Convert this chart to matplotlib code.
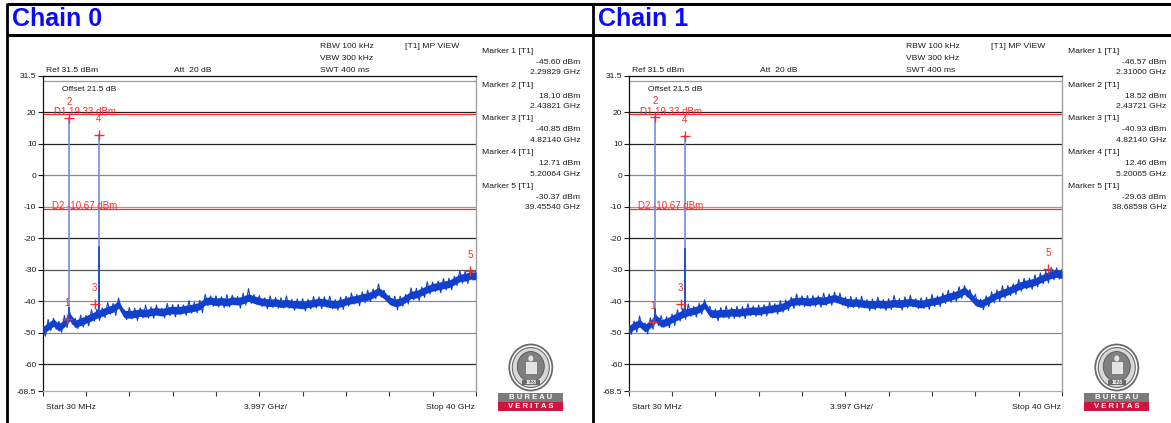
import numpy as np
import matplotlib
matplotlib.use("Agg")
import matplotlib.pyplot as plt
from matplotlib.lines import Line2D
from matplotlib.patches import Rectangle, Ellipse

plt.rcParams['font.family'] = ['Liberation Sans', 'DejaVu Sans']

W, H = 1171, 423

# ---- analyzer settings -------------------------------------------------
START_GHZ = 0.03
STOP_GHZ = 40.0
REF_DBM = 31.5
BOTTOM_DBM = -68.5
y_ticks = [31.5, 20, 10, 0, -10, -20, -30, -40, -50, -60, -68.5]
y_tick_labels = ['31.5', '20', '10', '0', '-10', '-20', '-30', '-40', '-50', '-60', '-68.5']
grid_levels = [30, 20, 10, 0, -10, -20, -30, -40, -50, -60]
grid_colors = ['#9a9a9a', '#222222', '#222222', '#8a8a8a', '#9a9a9a',
               '#222222', '#555555', '#8a8a8a', '#8a8a8a', '#222222']
display_line_names = ['D1', 'D2']
display_line_levels = [19.33, -10.67]
settings_left = ['RBW 100 kHz', 'VBW 300 kHz', 'SWT 400 ms']
x_labels = ['Start 30 MHz', '3.997 GHz/', 'Stop 40 GHz']

chain_names = ['Chain 0', 'Chain 1']

# ---- markers (GHz, dBm) ------------------------------------------------
marker_freqs_0 = [2.29829, 2.43821, 4.82140, 5.20064, 39.45540]
marker_levels_0 = [-45.60, 18.10, -40.85, 12.71, -30.37]
marker_freqs_1 = [2.31000, 2.43721, 4.82140, 5.20065, 38.68598]
marker_levels_1 = [-46.57, 18.52, -40.93, 12.46, -29.63]

# ---- trace: 81 sweep points from 30 MHz to 40 GHz -----------------------
trace_mid_0 = [-49.3, -48.0, -46.8, -48.3, -47.0, -45.0, -47.2, -46.5, -45.8, -45.0,
               -44.2, -43.6, -42.8, -42.3, -41.0, -44.0, -44.2, -44.0, -43.6, -43.8,
               -43.4, -43.2, -43.5, -43.0, -42.8, -42.9, -42.6, -42.3, -42.0, -41.5,
               -40.0, -39.8, -40.2, -40.0, -40.3, -39.8, -40.0, -39.6, -38.8, -39.5,
               -40.0, -40.3, -40.5, -40.4, -40.8, -40.6, -40.9, -41.0, -41.2, -40.8,
               -40.6, -40.2, -40.4, -40.8, -41.0, -40.6, -40.0, -39.6, -39.3, -38.8,
               -38.5, -37.8, -36.8, -38.0, -39.8, -40.5, -40.2, -39.2, -38.0, -37.8,
               -37.0, -36.2, -35.6, -35.2, -34.8, -34.5, -33.6, -32.6, -32.4, -31.8,
               -32.0]
trace_mid_1 = [-49.0, -47.8, -47.0, -48.5, -47.3, -45.5, -47.0, -46.6, -45.6, -44.8,
               -44.0, -43.4, -43.0, -42.5, -41.2, -43.8, -44.0, -43.8, -43.8, -43.5,
               -43.6, -43.4, -43.2, -43.0, -43.1, -42.7, -42.5, -42.2, -42.0, -41.3,
               -40.2, -40.0, -39.9, -40.2, -40.0, -39.7, -39.9, -39.4, -39.0, -39.6,
               -40.2, -40.5, -40.4, -40.7, -40.9, -41.1, -40.8, -41.0, -40.9, -40.6,
               -40.8, -40.5, -40.3, -40.6, -40.9, -40.5, -40.1, -39.8, -39.2, -38.6,
               -38.2, -37.6, -36.6, -38.2, -40.2, -40.8, -40.0, -39.0, -38.0, -37.4,
               -36.8, -36.0, -35.2, -34.6, -34.3, -33.8, -33.0, -32.2, -31.6, -31.2,
               -31.6]
# noise excursion above / below the trace body (dB)
noise_up_0 = [1.6, 2.2, 1.4, 1.9, 2.5, 1.5, 1.8, 2.1, 1.3, 2.3,
              1.7, 1.5, 2.4, 1.6, 2.0, 1.4, 2.2, 1.8, 1.5, 2.6,
              1.6, 2.0, 1.3, 2.3, 1.7, 1.9, 1.4, 2.5, 1.6, 1.8,
              2.2, 1.5, 1.9, 1.4, 2.4, 1.7, 1.5, 2.1, 2.8, 1.6,
              1.8, 1.4, 2.2, 1.6, 1.9, 2.3, 1.5, 1.7, 2.0, 1.4,
              2.1, 1.6, 1.8, 2.4, 1.5, 1.9, 1.6, 2.2, 1.4, 1.8,
              2.0, 1.7, 2.3, 1.5, 1.6, 2.1, 1.8, 1.4, 2.2, 1.9,
              1.5, 2.4, 1.7, 1.6, 2.0, 1.8, 1.5, 2.3, 1.9, 2.1,
              1.6]
noise_dn_0 = [1.8, 1.3, 2.1, 1.6, 1.4, 2.3, 1.5, 1.7, 2.0, 1.4,
              1.9, 1.6, 1.3, 2.2, 1.5, 1.8, 1.4, 2.1, 1.7, 1.5,
              2.0, 1.4, 1.8, 1.6, 2.2, 1.3, 1.9, 1.5, 1.7, 2.1,
              1.4, 1.8, 1.6, 2.0, 1.5, 1.3, 2.2, 1.6, 1.9, 1.4,
              1.7, 2.1, 1.5, 1.8, 1.4, 1.6, 2.0, 1.3, 1.9, 1.7,
              1.5, 2.2, 1.4, 1.6, 1.8, 2.0, 1.5, 1.3, 2.1, 1.7,
              1.6, 1.4, 1.9, 1.8, 1.5, 2.2, 1.4, 1.7, 1.6, 2.0,
              1.8, 1.5, 1.3, 2.1, 1.6, 1.9, 1.4, 1.7, 2.0, 1.5,
              1.6]
noise_up_1 = [1.9, 1.5, 2.3, 1.6, 2.0, 1.4, 2.4, 1.7, 1.5, 2.1,
              1.8, 2.5, 1.4, 1.9, 1.6, 2.2, 1.5, 1.8, 2.3, 1.4,
              2.0, 1.7, 2.4, 1.5, 1.9, 1.6, 2.1, 1.4, 2.2, 1.7,
              1.5, 2.3, 1.6, 2.0, 1.8, 1.4, 2.5, 1.7, 1.9, 2.2,
              1.5, 2.0, 1.6, 2.3, 1.4, 1.8, 2.1, 1.5, 1.7, 2.4,
              1.6, 1.9, 2.2, 1.4, 2.0, 1.7, 2.3, 1.5, 1.8, 2.1,
              1.4, 2.2, 1.6, 1.9, 2.4, 1.5, 1.7, 2.0, 1.6, 2.3,
              1.8, 1.5, 2.1, 1.9, 1.6, 2.2, 2.0, 1.7, 2.4, 1.8,
              1.7]
noise_dn_1 = [1.5, 2.0, 1.4, 1.9, 1.6, 2.2, 1.3, 1.8, 2.1, 1.5,
              1.7, 1.4, 2.0, 1.6, 1.8, 1.5, 2.2, 1.4, 1.7, 1.9,
              1.5, 2.1, 1.4, 1.8, 1.6, 2.0, 1.3, 1.9, 1.5, 1.7,
              2.1, 1.4, 1.8, 1.5, 1.6, 2.2, 1.4, 1.9, 1.5, 1.7,
              2.0, 1.5, 1.8, 1.4, 2.1, 1.6, 1.5, 1.9, 1.7, 1.4,
              2.0, 1.6, 1.5, 1.8, 1.4, 2.1, 1.6, 1.9, 1.5, 1.7,
              1.8, 1.5, 2.0, 1.6, 1.4, 1.9, 1.7, 1.5, 2.1, 1.6,
              1.4, 1.8, 1.6, 1.5, 1.9, 1.7, 1.5, 2.0, 1.6, 1.8,
              1.6]

# carrier / harmonic spikes: base level of the line and top of its dark part
spike_base_0 = [-46.0, -43.5]
spike_dark_top_0 = [-42.0, -22.7]
spike_base_1 = [-46.5, -43.3]
spike_dark_top_1 = [-42.5, -23.5]

chains = [
    dict(name=chain_names[0], mf=marker_freqs_0, ml=marker_levels_0,
         mid=trace_mid_0, up=noise_up_0, dn=noise_dn_0,
         sb=spike_base_0, sd=spike_dark_top_0),
    dict(name=chain_names[1], mf=marker_freqs_1, ml=marker_levels_1,
         mid=trace_mid_1, up=noise_up_1, dn=noise_dn_1,
         sb=spike_base_1, sd=spike_dark_top_1),
]

TRACE = '#1040cc'
SPIKE_LIGHT = '#6f8fe4'
RED = '#ff2a2a'
TXT = '#1c1c1c'
FS = 6.1

fig = plt.figure(figsize=(W / 100, H / 100), dpi=100)
fig.patch.set_facecolor('white')


def fx(px):
    return px / W


def fy(py):
    return 1 - py / H


def fig_line(xs, ys, lw, color='black'):
    fig.add_artist(Line2D([fx(v) for v in xs], [fy(v) for v in ys],
                          transform=fig.transFigure, lw=lw, color=color,
                          solid_capstyle='butt'))


# outer frame and title band
fig_line([7, W], [4, 4], 2.2)
fig_line([7, W], [35, 35], 2.2)
fig_line([7, 7], [3, H], 2.0)
fig_line([593, 593], [3, H], 2.0)

PANEL_OFFSET = 586.0
AX_LEFT, AX_RIGHT, AX_TOP, AX_BOTTOM = 42.7, 476.0, 76.0, 391.0

sweep_freqs = np.linspace(START_GHZ, STOP_GHZ, len(trace_mid_0))
half_step = (sweep_freqs[1] - sweep_freqs[0]) / 2


def draw_logo(off):
    cx, cy = 530.8 + off, 367.5
    fig.add_artist(Ellipse((fx(cx), fy(cy)), 43 / W, 46 / H, transform=fig.transFigure,
                           facecolor='white', edgecolor='#6a6a6a', lw=1.3))
    fig.add_artist(Ellipse((fx(cx), fy(cy)), 37 / W, 40 / H, transform=fig.transFigure,
                           facecolor='#d8d8d8', edgecolor='#6a6a6a', lw=0.8))
    fig.add_artist(Ellipse((fx(cx), fy(cy - 1)), 27 / W, 30 / H, transform=fig.transFigure,
                           facecolor='#808080', edgecolor='#555555', lw=0.6))
    fig.add_artist(Rectangle((fx(cx - 6), fy(cy + 6)), 12 / W, 13 / H, transform=fig.transFigure,
                             facecolor='#e4e4e4', edgecolor='#555555', lw=0.4))
    fig.add_artist(Ellipse((fx(cx), fy(cy - 9)), 5 / W, 6 / H, transform=fig.transFigure,
                           facecolor='#e4e4e4', edgecolor='none'))
    fig.add_artist(Rectangle((fx(cx - 9), fy(cy + 17)), 18 / W, 5 / H, transform=fig.transFigure,
                             facecolor='#6a6a6a', edgecolor='none'))
    fig.text(fx(cx), fy(cy + 14.5), '1828', fontsize=3.6, color='white', ha='center',
             va='center', weight='bold')
    x0, x1 = 498 + off, 563 + off
    fig.add_artist(Rectangle((fx(x0), fy(402)), (x1 - x0) / W, 9 / H, transform=fig.transFigure,
                             facecolor='#7b7b7b', edgecolor='none'))
    fig.add_artist(Rectangle((fx(x0), fy(411)), (x1 - x0) / W, 9 / H, transform=fig.transFigure,
                             facecolor='#d2123f', edgecolor='none'))
    fig.text(fx((x0 + x1) / 2), fy(397.6), 'B U R E A U', fontsize=5.6, color='white',
             ha='center', va='center', weight='bold')
    fig.text(fx((x0 + x1) / 2), fy(406.6), 'V E R I T A S', fontsize=5.6, color='white',
             ha='center', va='center', weight='bold')


for ci, ch in enumerate(chains):
    off = PANEL_OFFSET * ci

    fig.text(fx(12 + off), fy(19), ch['name'], fontsize=18, weight='bold',
             color='#0a0aff', ha='left', va='center')

    # instrument header
    for k, s in enumerate(settings_left):
        fig.text(fx(320 + off), fy(47 + 11.5 * k), s, fontsize=FS, color=TXT, va='center')
    fig.text(fx(405 + off), fy(47), '[T1] MP VIEW', fontsize=FS, color=TXT, va='center')
    fig.text(fx(46 + off), fy(71), 'Ref %.1f dBm' % REF_DBM, fontsize=FS, color=TXT, va='center')
    fig.text(fx(174 + off), fy(71), 'Att  20 dB', fontsize=FS, color=TXT, va='center')

    # marker table
    for k, (f, lv) in enumerate(zip(ch['mf'], ch['ml'])):
        y0 = 51.5 + 33.7 * k
        fig.text(fx(482 + off), fy(y0), 'Marker %d [T1]' % (k + 1), fontsize=FS,
                 color=TXT, va='center')
        fig.text(fx(580.5 + off), fy(y0 + 11), '%.2f dBm' % lv, fontsize=FS,
                 color=TXT, va='center', ha='right')
        fig.text(fx(580.5 + off), fy(y0 + 21.5), '%.5f GHz' % f, fontsize=FS,
                 color=TXT, va='center', ha='right')

    # bottom labels
    fig.text(fx(46 + off), fy(407), x_labels[0], fontsize=FS, color=TXT, va='center', ha='left')
    fig.text(fx(266 + off), fy(407), x_labels[1], fontsize=FS, color=TXT, va='center', ha='center')
    fig.text(fx(475 + off), fy(407), x_labels[2], fontsize=FS, color=TXT, va='center', ha='right')

    ax = fig.add_axes([fx(AX_LEFT + off), fy(AX_BOTTOM), (AX_RIGHT - AX_LEFT) / W,
                       (AX_BOTTOM - AX_TOP) / H])
    ax.set_xlim(START_GHZ, STOP_GHZ)
    ax.set_ylim(BOTTOM_DBM, REF_DBM)
    ax.set_facecolor('white')

    ax.set_yticks(y_ticks)
    ax.set_yticklabels(y_tick_labels)
    ax.set_xticks(np.linspace(START_GHZ, STOP_GHZ, 11))
    ax.set_xticklabels([])
    ax.tick_params(axis='y', direction='out', length=3.5, width=0.8, pad=1,
                   labelsize=FS, colors=TXT)
    ax.tick_params(axis='x', direction='out', length=3.5, width=0.8, colors='#333333')

    ax.spines['left'].set_color('#111111')
    ax.spines['left'].set_linewidth(0.9)
    ax.spines['top'].set_color('#111111')
    ax.spines['top'].set_linewidth(0.9)
    ax.spines['right'].set_color('#a0a0a0')
    ax.spines['right'].set_linewidth(1.0)
    ax.spines['bottom'].set_color('#b0b0b0')
    ax.spines['bottom'].set_linewidth(0.9)

    for lvl, col in zip(grid_levels, grid_colors):
        ax.axhline(lvl, color=col, lw=0.9, zorder=1)

    # display lines
    for name, lvl, xa in zip(display_line_names, display_line_levels, [0.025, 0.021]):
        ax.axhline(lvl, color=RED, lw=0.9, zorder=2)
        ax.text(xa, lvl + 0.9, '%s %.2f dBm' % (name, lvl), color=RED, fontsize=7,
                va='center', ha='left', transform=ax.get_yaxis_transform(), zorder=6)

    ax.text(0.045, 27.3, 'Offset 21.5 dB', fontsize=FS, color=TXT, va='center', ha='left',
            transform=ax.get_yaxis_transform())

    # trace: solid core plus the noise excursions drawn as a peak/valley path
    mid = np.array(ch['mid'])
    hi = mid + np.array(ch['up'])
    lo = mid - np.array(ch['dn'])
    ax.fill_between(sweep_freqs, mid - 1.2, mid + 1.2, color=TRACE, lw=0, zorder=3)
    path_x = np.empty(2 * len(mid) - 1)
    path_y = np.empty(2 * len(mid) - 1)
    path_x[0::2] = sweep_freqs
    path_y[0::2] = hi
    path_x[1::2] = sweep_freqs[:-1] + half_step
    path_y[1::2] = lo[:-1]
    ax.plot(path_x, path_y, color=TRACE, lw=0.8, zorder=3)

    # spikes at marker 2 (carrier) and marker 4 (harmonic)
    for j, mk in enumerate([1, 3]):
        f = ch['mf'][mk]
        ax.plot([f, f], [ch['sb'][j], ch['ml'][mk]], color=SPIKE_LIGHT, lw=1.2, zorder=3)
        ax.plot([f, f], [ch['sb'][j], ch['sd'][j]], color=TRACE, lw=1.2, zorder=4)

    # markers
    for k, (f, lv) in enumerate(zip(ch['mf'], ch['ml'])):
        ax.plot([f], [lv], marker='+', color=RED, ms=7, mew=1.0, zorder=7)
        ax.annotate(str(k + 1), (f, lv), xytext=(0, 16), textcoords='offset pixels',
                    ha='center', va='center', color=RED, fontsize=7, zorder=7)

    draw_logo(off)

fig.savefig('out.png', dpi=100)
